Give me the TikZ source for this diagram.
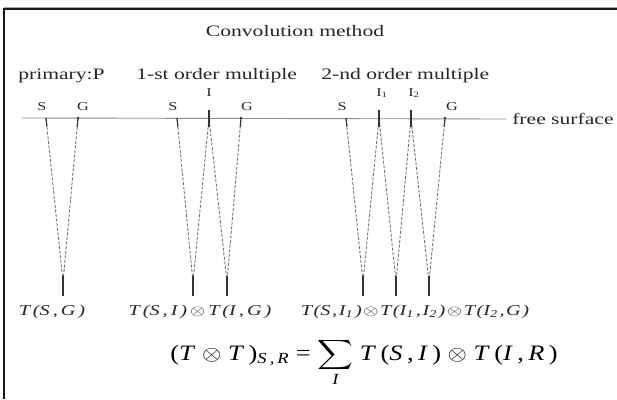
\documentclass[tikz,border=0pt]{standalone}
\usepackage{amsmath}
\usepackage{fontspec}
\setmainfont{Liberation Serif}
\usetikzlibrary{calc}
\newcommand{\gp}{\kern1.2pt}
\newcommand{\gq}{\kern2.2pt}
\begin{document}
\begin{tikzpicture}[x=1pt,y=-1pt,
  lbl/.style={inner sep=0pt, text=black!85, xscale=1.35, font=\fontsize{16}{18}\selectfont},
  tlbl/.style={inner sep=0pt, text=black!85, xscale=1.35, font=\fontsize{15}{18}\selectfont\itshape},
  ptl/.style={inner sep=0pt, text=black!85, xscale=1.35, font=\fontsize{12}{14}\selectfont},
  ray/.style={draw=black!55, line width=0.9pt, dash pattern=on 3pt off 1.6pt},
  stub/.style={draw=black!80, line width=1.1pt},
  surf/.style={draw=black!45, line width=0.9pt},
  frame/.style={draw=black!90, line width=1.4pt}]
\useasboundingbox (0,0) rectangle (617,399);
% frame
\coordinate (FB) at (4,399);
\coordinate (FC) at (4,9);
\coordinate (FR) at (617,9);
\draw[frame] (FB) -- (FC) -- (FR);
\coordinate (GL) at (4,7.3);
\coordinate (GR) at (617,7.3);
\draw[black!35, line width=0.8pt] (GL) -- (GR);
% title and headers
\node[lbl] (title) at (295,31) {Convolution method};
\node[lbl, anchor=west] (hp) at (18,76) {primary:P};
\node[lbl, anchor=west] (h1) at (136,76) {1-st order multiple};
\node[lbl, anchor=west] (h2) at (321,76) {2-nd order multiple};
% free surface
\node[lbl, anchor=west] (fs) at (512,119) {free surface};
\coordinate (fsL) at (22,118);
\draw[surf] (fsL) -- ([xshift=-6pt]fs.west);
% surface points
\coordinate (S1) at (46,118);
\coordinate (G1) at (78,118);
\coordinate (S2) at (177,118);
\coordinate (I) at (209,118);
\coordinate (G2) at (241,118);
\coordinate (S3) at (346,118);
\coordinate (Ia) at (379,118);
\coordinate (Ib) at (411,118);
\coordinate (G3) at (445,118);
% vertices at depth
\coordinate (V1) at (63,282);
\coordinate (V2a) at (193,282);
\coordinate (V2b) at (227,282);
\coordinate (V3a) at (363,282);
\coordinate (V3b) at (396,282);
\coordinate (V3c) at (429,282);
% rays
\draw[ray] (S1) -- (V1) -- (G1);
\draw[ray] (S2) -- (V2a) -- (I) -- (V2b) -- (G2);
\draw[ray] (S3) -- (V3a) -- (Ia) -- (V3b) -- (Ib) -- (V3c) -- (G3);
% bottom stubs
\foreach \v in {V1,V2a,V2b,V3a,V3b,V3c}{
  \draw[stub] ($(\v)+(0,-6)$) -- ($(\v)+(0,14)$);
}
% top stubs
\draw[stub] (S1) -- ($(S1)!9pt!(V1)$);
\draw[stub] (S2) -- ($(S2)!9pt!(V2a)$);
\draw[stub] (S3) -- ($(S3)!9pt!(V3a)$);
\draw[stub] (G1) -- ($(G1)!9pt!(V1)$);
\draw[stub] (G2) -- ($(G2)!9pt!(V2b)$);
\draw[stub] (G3) -- ($(G3)!9pt!(V3c)$);
\fill[black!80] (G1) circle (1.4);
\fill[black!80] (G2) circle (1.4);
\fill[black!80] (G3) circle (1.4);
\foreach \p in {I,Ia,Ib}{
  \draw[stub] ($(\p)+(0,-8)$) -- ($(\p)+(0,9)$);
}
% point labels
\node[ptl] (lS1) at (42,107) {S};
\node[ptl] (lG1) at (83,107) {G};
\node[ptl] (lS2) at (173,107) {S};
\node[ptl] (lI) at (209,93) {I};
\node[ptl] (lG2) at (247,107) {G};
\node[ptl] (lS3) at (342,107) {S};
\node[ptl, anchor=west] (lI1) at (376,93) {I\textsubscript{1}};
\node[ptl, anchor=west] (lI2) at (408,93) {I\textsubscript{2}};
\node[ptl] (lG3) at (452,107) {G};
% transfer labels
\node[tlbl] (t1) at (52,312) {T\gq(S\gq,\gq G\gq)};
\node[tlbl] (t2) at (200,312) {T\gq(S\gq,\gq I\gq)\gq$\otimes$\gq T\gq(I\gq,\gq G\gq)};
\node[tlbl] (t3) at (415,312) {T\gp(S\gp,\gp I\textsubscript{1}\gp)\gp$\otimes$\gp T\gp(I\textsubscript{1}\gp,\gp I\textsubscript{2}\gp)\gp$\otimes$\gp T\gp(I\textsubscript{2}\gp,\gp G\gp)};
% formula
\node[inner sep=0pt, anchor=base, xscale=1.2, font=\fontsize{22}{26}\selectfont] (eq) at (364,360)
 {(\textit{T} $\otimes$ \textit{T}\,)$_{\textit{S\,,\,R}}$ = $\displaystyle\sum_{\textit{I}}$ \textit{T}\,(\textit{S}\,,\,\textit{I}\,) $\otimes$ \textit{T}\,(\textit{I}\,,\,\textit{R}\,)};
\end{tikzpicture}
\end{document}
